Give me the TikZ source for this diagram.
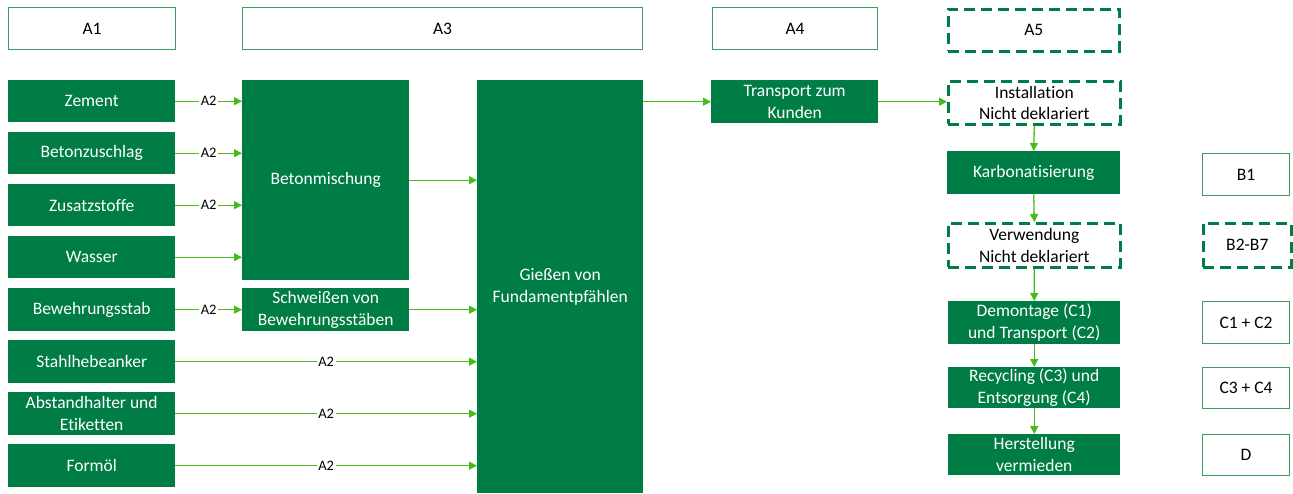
\documentclass[tikz,border=0pt]{standalone}
\usepackage{fontspec}
\setmainfont{Carlito}[Ligatures=NoCommon]
\usetikzlibrary{arrows.meta}
\definecolor{dkgreen}{RGB}{0,124,69}
\definecolor{lime}{RGB}{70,188,24}
\definecolor{rimgreen}{RGB}{60,155,95}
\tikzset{
  box/.style={anchor=north west,inner sep=0pt,align=center,font=\fontsize{17.5}{21.5}\selectfont},
  proc/.style={box,fill=dkgreen,text=white},
  hdr/.style={box,draw=rimgreen,line width=1.1pt,fill=white},
  dashbox/.style={box,draw=dkgreen,line width=2.6pt,dash pattern=on 11pt off 6pt,fill=white},
  flow/.style={draw=lime,line width=1.3pt,-{Triangle[length=8pt,width=8pt]}},
  lbl/.style={fill=white,inner sep=1.5pt,font=\fontsize{14.5}{16}\selectfont}
}
\begin{document}
\begin{tikzpicture}[x=1pt,y=1pt]
                \useasboundingbox (0,0) rectangle (1293,-493);
                \node[hdr,minimum width=167pt,minimum height=42pt] (a1) at (8,-7) {A1};
                \node[hdr,minimum width=400pt,minimum height=42pt] (a3) at (242,-7) {A3};
                \node[hdr,minimum width=165pt,minimum height=42pt] (a4) at (712,-7) {A4};
                \node[dashbox,minimum width=171pt,minimum height=42pt] (a5) at (947,-8) {A5};
                \node[proc,minimum width=167pt,minimum height=42pt] (zement) at (8,-80) {Zement};
                \node[proc,minimum width=167pt,minimum height=42pt] (zuschlag) at (8,-132) {Betonzuschlag};
                \node[proc,minimum width=167pt,minimum height=42pt] (zusatz) at (8,-184) {Zusatzstoffe};
                \node[proc,minimum width=167pt,minimum height=42pt] (wasser) at (8,-236) {Wasser};
                \node[proc,minimum width=167pt,minimum height=43pt] (bewehr) at (8,-288) {Bewehrungsstab};
                \node[proc,minimum width=167pt,minimum height=43pt] (anker) at (8,-340) {Stahlhebeanker};
                \node[proc,minimum width=167pt,minimum height=43pt] (halter) at (8,-392) {Abstandhalter und\\Etiketten};
                \node[proc,minimum width=167pt,minimum height=43pt] (formoel) at (8,-444) {Formöl};
                \node[proc,minimum width=167pt,minimum height=200pt] (misch) at (242,-80) {Betonmischung};
                \node[proc,minimum width=167pt,minimum height=43pt] (schweiss) at (242,-288) {Schweißen von\\Bewehrungsstäben};
                \node[proc,minimum width=166pt,minimum height=413pt] (giessen) at (477,-80) {Gießen von\\Fundamentpfählen};
                \node[proc,minimum width=167pt,minimum height=43pt] (transport) at (711,-80) {Transport zum\\Kunden};
                \node[dashbox,minimum width=172pt,minimum height=43pt] (inst) at (947,-80) {Installation\\Nicht deklariert};
                \node[proc,minimum width=173pt,minimum height=43pt] (karb) at (947,-151) {Karbonatisierung};
                \node[dashbox,minimum width=172pt,minimum height=44pt] (verw) at (947,-222) {Verwendung\\Nicht deklariert};
                \node[proc,minimum width=172pt,minimum height=43pt] (demont) at (948,-301) {Demontage (C1)\\und Transport (C2)};
                \node[proc,minimum width=172pt,minimum height=41pt] (recyc) at (948,-367) {Recycling (C3) und\\Entsorgung (C4)};
                \node[proc,minimum width=172pt,minimum height=41pt] (herst) at (948,-434) {Herstellung\\vermieden};
                \node[hdr,minimum width=87pt,minimum height=42pt] (b1) at (1202,-153) {B1};
                \node[dashbox,minimum width=88pt,minimum height=44pt] (b2) at (1202,-222) {B2-B7};
                \node[hdr,minimum width=87pt,minimum height=42pt] (c12) at (1202,-301) {C1 + C2};
                \node[hdr,minimum width=87pt,minimum height=41pt] (c34) at (1202,-367) {C3 + C4};
                \node[hdr,minimum width=87pt,minimum height=41pt] (d) at (1202,-434) {D};
                \draw[flow] (zement.east) -- node[lbl] {A2} (zement.east -| misch.west);
                \draw[flow] (zuschlag.east) -- node[lbl] {A2} (zuschlag.east -| misch.west);
                \draw[flow] (zusatz.east) -- node[lbl] {A2} (zusatz.east -| misch.west);
                \draw[flow] (wasser.east) -- (wasser.east -| misch.west);
                \draw[flow] (bewehr.east) -- node[lbl] {A2} (bewehr.east -| schweiss.west);
                \draw[flow] (misch.east) -- (misch.east -| giessen.west);
                \draw[flow] (schweiss.east) -- (schweiss.east -| giessen.west);
                \draw[flow] (anker.east) -- node[lbl] {A2} (anker.east -| giessen.west);
                \draw[flow] (halter.east) -- node[lbl] {A2} (halter.east -| giessen.west);
                \draw[flow] (formoel.east) -- node[lbl] {A2} (formoel.east -| giessen.west);
                \draw[flow] (transport.west -| giessen.east) -- (transport.west);
                \draw[flow] (transport.east) -- (transport.east -| inst.west);
                \draw[flow] (inst.south) -- (karb.north);
                \draw[flow] (karb.south) -- (verw.north);
                \draw[flow] (verw.south) -- (demont.north);
                \draw[flow] (demont.south) -- (recyc.north);
                \draw[flow] (recyc.south) -- (herst.north);
            \end{tikzpicture}
\end{document}
